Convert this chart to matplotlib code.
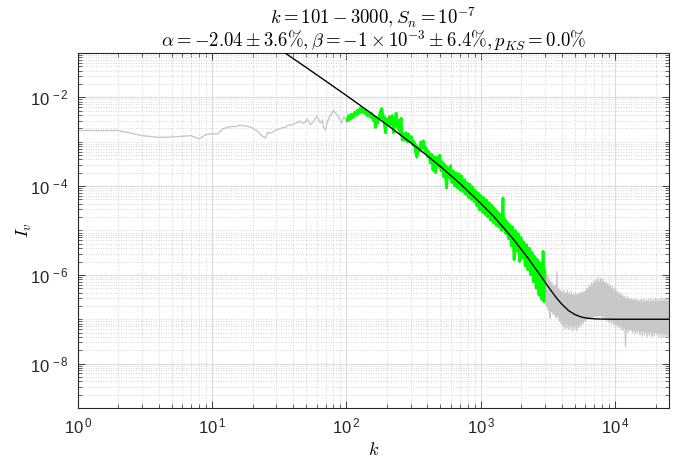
import numpy as np
import matplotlib
matplotlib.use("Agg")
import matplotlib.pyplot as plt
from matplotlib.ticker import LogLocator, FuncFormatter, NullFormatter

# MATLAB風の見た目: 目盛はHelvetica相当, タイトルはLaTeX(cm)
plt.rcParams['font.family'] = ['Liberation Sans', 'DejaVu Sans']
plt.rcParams['mathtext.fontset'] = 'custom'
plt.rcParams['mathtext.rm'] = 'Liberation Sans'
plt.rcParams['mathtext.it'] = 'Liberation Sans:italic'
plt.rcParams['mathtext.bf'] = 'Liberation Sans:bold'

# スペクトル(低波数側, 灰色)
k_low = [1, 2, 3, 4, 5, 6, 7, 8, 9, 10, 11, 12, 13, 14, 15, 16, 17, 18, 19, 20,
         21, 22, 23, 24, 25, 26, 27, 28, 29, 30, 31, 32, 33, 34, 35, 36, 37, 38, 39, 40,
         42, 44, 45, 46, 48, 50, 51, 52, 54, 56, 57, 58, 60, 62, 64, 66, 68, 70, 72, 74,
         76, 78, 80, 82, 84, 86, 88, 90, 92, 94, 96, 98, 100]
I_low = [1.79e-3, 1.79e-3, 1.38e-3, 1.25e-3, 1.28e-3, 1.33e-3, 1.37e-3, 1.16e-3, 1.45e-3, 1.52e-3,
         1.50e-3, 1.95e-3, 2.10e-3, 2.22e-3, 2.20e-3, 2.35e-3, 2.30e-3, 2.28e-3, 2.15e-3, 2.05e-3,
         1.85e-3, 1.70e-3, 1.45e-3, 1.30e-3, 1.22e-3, 1.65e-3, 1.55e-3, 1.60e-3, 1.75e-3, 1.85e-3,
         1.90e-3, 1.95e-3, 2.05e-3, 2.10e-3, 2.09e-3, 2.25e-3, 2.40e-3, 2.35e-3, 2.40e-3, 2.50e-3,
         2.62e-3, 2.80e-3, 2.96e-3, 2.75e-3, 2.62e-3, 3.00e-3, 3.28e-3, 2.90e-3, 2.40e-3, 2.70e-3,
         2.86e-3, 3.20e-3, 3.70e-3, 3.20e-3, 2.62e-3, 3.11e-3, 2.00e-3, 1.85e-3, 2.80e-3, 3.40e-3,
         4.00e-3, 4.40e-3, 5.22e-3, 4.60e-3, 4.20e-3, 4.00e-3, 3.40e-3, 3.10e-3, 2.62e-3, 3.30e-3,
         3.70e-3, 3.20e-3, 3.40e-3]

# フィット区間 k = 101 - 3000 (緑)
k_fit = [101, 104, 106, 109, 112, 115, 118, 121, 124, 127, 130, 133, 136, 139, 142, 146, 150, 154,
         158, 161, 164, 167, 171, 175, 179, 183, 187, 191, 195, 199, 204, 209, 214, 219, 224, 229,
         234, 239, 244, 250, 255, 260, 266, 272, 278, 284, 290, 297, 304, 311, 318, 326, 334, 342,
         350, 358, 366, 374, 383, 392, 401, 410, 420, 430, 440, 450, 461, 472, 483, 494, 506, 518,
         530, 542, 555, 568, 582, 596, 610, 625, 640, 655, 671, 687, 703, 720, 737, 755, 773, 791,
         810, 830, 850, 870, 891, 912, 934, 956, 979, 1002, 1026, 1050, 1075, 1101, 1127, 1154,
         1182, 1210, 1239, 1269, 1299, 1330, 1362, 1395, 1428, 1462, 1475, 1497, 1533, 1570, 1607,
         1646, 1685, 1725, 1767, 1809, 1852, 1897, 1942, 1988, 2036, 2085, 2135, 2186, 2238, 2292,
         2347, 2403, 2461, 2520, 2580, 2642, 2706, 2771, 2837, 2905, 2950, 3000]
I_fit = [3.0e-3, 3.9e-3, 3.3e-3, 4.2e-3, 3.6e-3, 4.6e-3, 4.0e-3, 5.2e-3, 4.5e-3, 5.8e-3, 4.8e-3,
         5.5e-3, 4.4e-3, 5.0e-3, 3.9e-3, 4.5e-3, 3.6e-3, 4.3e-3, 3.0e-3, 3.6e-3, 2.1e-3, 3.2e-3,
         2.6e-3, 3.9e-3, 4.8e-3, 5.6e-3, 3.5e-3, 2.6e-3, 1.6e-3, 3.3e-3, 2.4e-3, 3.7e-3, 3.0e-3,
         3.9e-3, 1.6e-3, 2.8e-3, 4.4e-3, 2.5e-3, 3.0e-3, 2.0e-3, 3.4e-3, 1.1e-3, 1.5e-3, 1.2e-3,
         1.6e-3, 1.0e-3, 1.5e-3, 1.0e-3, 1.3e-3, 8.5e-4, 1.0e-3, 6.0e-4, 4.5e-4, 7.0e-4, 6.6e-4,
         1.0e-3, 8.0e-4, 1.05e-3, 6.0e-4, 7.0e-4, 4.6e-4, 6.0e-4, 3.3e-4, 5.2e-4, 2.3e-4, 4.0e-4,
         2.0e-4, 4.5e-4, 3.0e-4, 5.0e-4, 2.2e-4, 3.2e-4, 1.6e-4, 2.5e-4, 9.0e-5, 2.3e-4, 1.6e-4,
         2.9e-4, 1.2e-4, 2.2e-4, 1.0e-4, 2.0e-4, 9.0e-5, 1.9e-4, 8.0e-5, 1.7e-4, 7.5e-5, 1.4e-4,
         6.5e-5, 1.2e-4, 5.5e-5, 1.1e-4, 5.0e-5, 9.5e-5, 4.5e-5, 8.0e-5, 3.6e-5, 7.0e-5, 2.9e-5,
         6.0e-5, 2.6e-5, 5.5e-5, 2.3e-5, 4.9e-5, 2.0e-5, 4.2e-5, 1.7e-5, 3.6e-5, 1.5e-5, 3.0e-5,
         1.3e-5, 2.4e-5, 1.2e-5, 2.0e-5, 1.0e-5, 5.4e-5, 1.1e-5, 1.8e-5, 8.5e-6, 1.5e-5, 6.5e-6,
         1.3e-5, 4.5e-6, 1.2e-5, 2.2e-6, 1.0e-5, 3.5e-6, 8.5e-6, 2.0e-6, 7.0e-6, 2.4e-6, 5.5e-6,
         1.6e-6, 4.8e-6, 1.3e-6, 4.0e-6, 1.0e-6, 3.2e-6, 7.0e-7, 2.6e-6, 5.0e-7, 2.2e-6, 3.5e-7,
         1.8e-6, 2.8e-7, 3.4e-6, 2.5e-7, 1.2e-6]
# 緑の帯(内側の包絡)
k_fit_band = [101, 120, 130, 150, 165, 183, 200, 230, 260, 300, 340, 375, 420, 500, 600, 700, 800,
              1000, 1200, 1500, 1800, 2100, 2500, 3000]
lo_fit_band = [2.8e-3, 4.0e-3, 4.6e-3, 3.6e-3, 2.4e-3, 3.5e-3, 2.3e-3, 2.3e-3, 1.1e-3, 9.5e-4,
               5.5e-4, 7.5e-4, 3.5e-4, 2.4e-4, 1.3e-4, 9.0e-5, 6.5e-5, 3.3e-5, 2.0e-5, 1.0e-5,
               4.5e-6, 2.5e-6, 1.0e-6, 4.5e-7]
hi_fit_band = [3.4e-3, 5.0e-3, 5.5e-3, 4.5e-3, 3.2e-3, 5.0e-3, 3.3e-3, 3.5e-3, 1.7e-3, 1.4e-3,
               8.0e-4, 1.0e-3, 5.5e-4, 4.2e-4, 2.4e-4, 1.7e-4, 1.2e-4, 6.5e-5, 4.0e-5, 2.0e-5,
               1.0e-5, 5.5e-6, 2.8e-6, 1.5e-6]

# 高波数側(灰色, ノイズフロア)
k_high = [3030, 3060, 3100, 3140, 3180, 3220, 3260, 3300, 3345, 3390, 3435, 3480, 3530, 3580, 3630,
          3680, 3730, 3780, 3830, 3890, 3950, 4010, 4070, 4130, 4200, 4270, 4340, 4410, 4480, 4560,
          4640, 4720, 4800, 4890, 4980, 5070, 5160, 5260, 5360, 5460, 5560, 5670, 5780, 5890, 6000,
          6120, 6240, 6360, 6490, 6620, 6750, 6890, 7030, 7170, 7320, 7470, 7620, 7780, 7940, 8100,
          8270, 8440, 8610, 8790, 8970, 9150, 9340, 9530, 9730, 9930, 10130, 10340, 10550, 10770,
          10990, 11220, 11450, 11690, 11930, 12180, 12430, 12690, 12950, 13220, 13490, 13770, 14050,
          14340, 14640, 14940, 15250, 15570, 15890, 16220, 16560, 16900, 17250, 17610, 17970, 18340,
          18720, 19110, 19500, 19910, 20320, 20740, 21170, 21610, 22060, 22510, 22980, 23450, 23940,
          24440, 24950]
I_high = [2.2e-7, 9.0e-7, 1.9e-7, 1.0e-6, 1.6e-7, 8.0e-7, 1.06e-7, 7.0e-7, 1.5e-7, 6.5e-7, 1.3e-7,
          5.5e-7, 1.26e-7, 6.0e-7, 1.1e-7, 1.19e-6, 1.2e-7, 5.0e-7, 9.0e-8, 4.6e-7, 8.0e-8, 4.2e-7,
          7.0e-8, 4.4e-7, 6.0e-8, 4.0e-7, 6.5e-8, 4.5e-7, 5.8e-8, 3.9e-7, 6.2e-8, 4.2e-7, 5.5e-8,
          3.6e-7, 6.0e-8, 4.0e-7, 5.5e-8, 3.7e-7, 6.5e-8, 3.9e-7, 7.0e-8, 4.2e-7, 8.0e-8, 4.0e-7,
          9.0e-8, 5.0e-7, 1.0e-7, 5.8e-7, 1.0e-7, 6.5e-7, 1.1e-7, 7.1e-7, 1.1e-7, 7.8e-7, 1.15e-7,
          8.5e-7, 1.2e-7, 8.3e-7, 1.1e-7, 8.0e-7, 1.0e-7, 7.0e-7, 9.0e-8, 6.5e-7, 8.5e-8, 6.0e-7,
          8.0e-8, 5.5e-7, 7.5e-8, 5.0e-7, 7.0e-8, 4.4e-7, 6.5e-8, 4.0e-7, 6.0e-8, 3.6e-7, 5.5e-8,
          3.3e-7, 2.45e-8, 3.2e-7, 5.0e-8, 3.0e-7, 5.5e-8, 2.9e-7, 5.0e-8, 2.8e-7, 4.8e-8, 2.9e-7,
          5.0e-8, 2.7e-7, 4.5e-8, 2.8e-7, 4.2e-8, 2.9e-7, 4.5e-8, 2.7e-7, 4.0e-8, 2.8e-7, 4.3e-8,
          2.9e-7, 4.0e-8, 2.8e-7, 4.2e-8, 3.0e-7, 4.5e-8, 2.8e-7, 4.0e-8, 2.9e-7, 3.8e-8, 3.0e-7,
          4.0e-8, 2.8e-7, 3.8e-8, 2.9e-7, 3.8e-8]
# 灰色の帯(内側の包絡)
k_high_band = [3000, 3500, 4000, 5000, 6000, 7000, 8000, 9000, 10000, 12000, 15000, 20000, 25000]
lo_high_band = [2.5e-7, 1.4e-7, 9.0e-8, 7.0e-8, 1.0e-7, 1.2e-7, 1.2e-7, 1.0e-7, 8.0e-8, 6.0e-8,
                5.5e-8, 5.0e-8, 4.5e-8]
hi_high_band = [8.0e-7, 5.5e-7, 4.0e-7, 3.5e-7, 4.5e-7, 7.0e-7, 7.5e-7, 5.5e-7, 4.2e-7, 3.0e-7,
                2.6e-7, 2.6e-7, 2.7e-7]

# フィット曲線 (読み取り値)
k_model = [30, 50, 70, 100, 150, 200, 300, 400, 500, 700, 1000, 1250, 1500, 1750, 2000, 2250, 2500,
           2750, 3000, 3250, 3500, 3750, 4000, 4500, 5000, 5500, 6000, 7000, 8000, 10000, 25000]
I_model = [1.374e-1, 4.75e-2, 2.34e-2, 1.098e-2, 4.57e-3, 2.42e-3, 9.57e-4, 4.82e-4, 2.77e-4,
           1.14e-4, 4.07e-5, 2.05e-5, 1.09e-5, 6.3e-6, 3.74e-6, 2.36e-6, 1.50e-6, 1.01e-6, 6.9e-7,
           4.9e-7, 3.59e-7, 2.75e-7, 2.20e-7, 1.56e-7, 1.28e-7, 1.14e-7, 1.07e-7, 1.02e-7, 1.007e-7,
           1.0e-7, 1.0e-7]

title1 = r'$k = 101 - 3000, S_n = 10^{-7}$'
title2 = r'$\alpha = -2.04 \pm 3.6\%, \beta = -1 \times 10^{-3} \pm 6.4\%, p_{KS} = 0.0\%$'

fig = plt.figure(figsize=(6.86, 4.61), dpi=100)
ax = fig.add_axes([0.1133, 0.115, 0.8615, 0.770])

gray = '#c8c8c8'
k_all = k_low + k_fit + k_high
I_all = I_low + I_fit + I_high
ax.fill_between(k_high_band, lo_high_band, hi_high_band, color=gray, lw=0, zorder=2)
ax.plot(k_all, I_all, color=gray, lw=1.0, zorder=2)
ax.fill_between(k_fit_band, lo_fit_band, hi_fit_band, color='#00ff00', lw=0, zorder=3)
ax.plot(k_fit, I_fit, color='#00ff00', lw=2.0, zorder=3)
ax.plot(k_model, I_model, color='black', lw=1.0, zorder=4)

ax.set_xscale('log')
ax.set_yscale('log')
ax.set_xlim(1, 2.5e4)
ax.set_ylim(1e-9, 1e-1)

ax.xaxis.set_major_locator(LogLocator(base=10, numticks=10))
ax.xaxis.set_minor_locator(LogLocator(base=10, subs=np.arange(2, 10), numticks=20))
ax.set_yticks([1e-8, 1e-6, 1e-4, 1e-2])
ax.yaxis.set_minor_locator(LogLocator(base=10, subs=np.arange(1, 10), numticks=30))


def exp_fmt(v, pos):
    e = int(round(np.log10(v)))
    return r'$\mathregular{10^{\,%d}}$' % e


ax.xaxis.set_major_formatter(FuncFormatter(exp_fmt))
ax.yaxis.set_major_formatter(FuncFormatter(exp_fmt))
ax.xaxis.set_minor_formatter(NullFormatter())
ax.yaxis.set_minor_formatter(NullFormatter())

ax.tick_params(which='both', direction='in', top=True, right=True, colors='#262626',
               labelsize=12, labelcolor='#262626')
ax.tick_params(which='major', length=5, width=0.6, pad=6)
ax.tick_params(which='minor', length=3, width=0.5)

ax.grid(which='major', color='#dcdcdc', lw=0.8, ls='-')
ax.grid(which='minor', color='#c8c8c8', lw=0.6, ls=(0, (1, 2)))
ax.set_axisbelow(True)
for s in ax.spines.values():
    s.set_color('#262626')
    s.set_linewidth(0.8)

ax.set_xlabel(r'$k$', fontsize=13, math_fontfamily='cm', labelpad=4)
ax.set_ylabel(r'$I_v$', fontsize=13, math_fontfamily='cm')
ax.yaxis.set_label_coords(-0.074, 0.5)

fig.text(0.544, 0.947, title1, ha='center', va='baseline', fontsize=13.5, math_fontfamily='cm')
fig.text(0.544, 0.899, title2, ha='center', va='baseline', fontsize=13.5, math_fontfamily='cm')

fig.savefig('out.png', dpi=100)
